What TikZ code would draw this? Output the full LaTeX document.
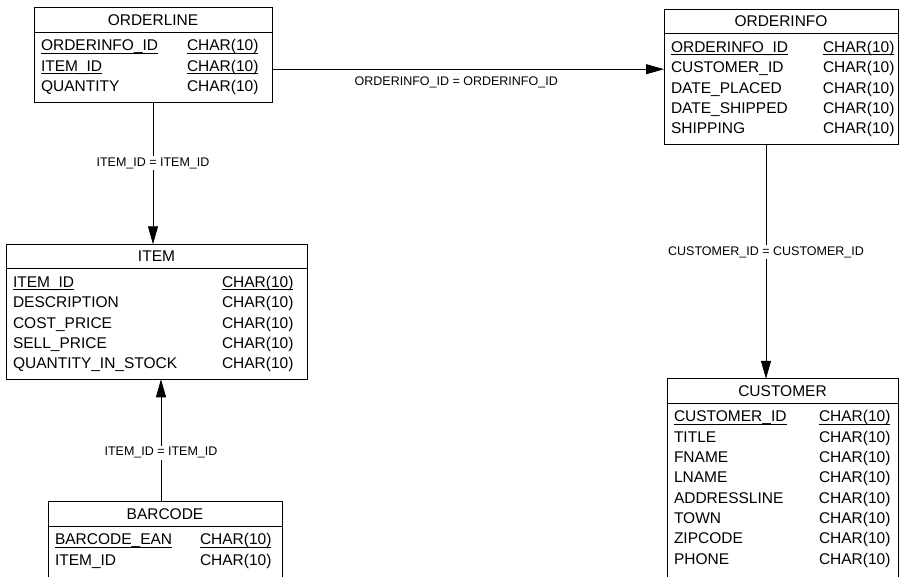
\documentclass[tikz,border=0pt]{standalone}
\usepackage{fontspec}
\setmainfont{Liberation Sans}
\usetikzlibrary{arrows.meta, positioning, calc}

\newcommand{\rowfont}{\fontsize{15.5}{20.3}\selectfont}
\newcommand{\relfont}{\fontsize{12.5}{14}\selectfont}
\newsavebox{\pkbox}
\newcommand{\pk}[1]{\leavevmode\sbox{\pkbox}{#1}\rlap{\rule[-2.4pt]{\wd\pkbox}{0.8pt}}\usebox{\pkbox}}

\begin{document}
\begin{tikzpicture}[
    x=1pt, y=-1pt,
    thead/.style={rectangle, draw, line width=0.8pt, outer sep=0pt, minimum height=24.5pt, inner sep=0pt, font=\rowfont},
    tbody/.style={rectangle, draw, line width=0.8pt, outer sep=0pt, inner xsep=7pt, inner ysep=4.5pt, align=left, font=\rowfont},
    fk/.style={-{Triangle[length=18pt, width=10pt]}, line width=0.8pt},
    rel/.style={font=\relfont, fill=white, inner sep=1.5pt}
]
\useasboundingbox (0,0) rectangle (899,576);
\clip (0,0) rectangle (899,576);

% tables
\node[thead, minimum width=238pt] (orderline) at (153,20) {ORDERLINE};
\node[tbody, text width=224pt, below=0pt of orderline] (orderline-b) {%
\begin{tabular}{@{}p{146pt}@{}l@{}}
\pk{ORDERINFO\_ID} & \pk{CHAR(10)}\\
\pk{ITEM\_ID} & \pk{CHAR(10)}\\
QUANTITY & CHAR(10)
\end{tabular}};

\node[thead, minimum width=234pt] (orderinfo) at (781,21.5) {ORDERINFO};
\node[tbody, text width=220pt, below=0pt of orderinfo] (orderinfo-b) {%
\begin{tabular}{@{}p{152pt}@{}l@{}}
\pk{ORDERINFO\_ID} & \pk{CHAR(10)}\\
CUSTOMER\_ID & CHAR(10)\\
DATE\_PLACED & CHAR(10)\\
DATE\_SHIPPED & CHAR(10)\\
SHIPPING & CHAR(10)
\end{tabular}};

\node[thead, minimum width=301pt] (item) at (156.5,256.5) {ITEM};
\node[tbody, text width=287pt, below=0pt of item] (item-b) {%
\begin{tabular}{@{}p{209pt}@{}l@{}}
\pk{ITEM\_ID} & \pk{CHAR(10)}\\
DESCRIPTION & CHAR(10)\\
COST\_PRICE & CHAR(10)\\
SELL\_PRICE & CHAR(10)\\
QUANTITY\_IN\_STOCK & CHAR(10)
\end{tabular}};

% barcode and customer run past the lower edge
\node[thead, minimum width=234pt] (barcode) at (165,514) {BARCODE};
\node[tbody, text width=220pt, below=0pt of barcode] (barcode-b) {%
\begin{tabular}{@{}p{145pt}@{}l@{}}
\pk{BARCODE\_EAN} & \pk{CHAR(10)}\\
ITEM\_ID & CHAR(10)\\[8pt]
\end{tabular}};

\node[thead, minimum width=231pt] (customer) at (782.5,391) {CUSTOMER};
\node[tbody, text width=217pt, below=0pt of customer] (customer-b) {%
\begin{tabular}{@{}p{145pt}@{}l@{}}
\pk{CUSTOMER\_ID} & \pk{CHAR(10)}\\
TITLE & CHAR(10)\\
FNAME & CHAR(10)\\
LNAME & CHAR(10)\\
ADDRESSLINE & CHAR(10)\\
TOWN & CHAR(10)\\
ZIPCODE & CHAR(10)\\
PHONE & CHAR(10)\\[8pt]
\end{tabular}};

% relationships
\draw[fk] ([yshift=-2pt]orderline-b.east) -- ([yshift=-2pt]orderline-b.east -| orderinfo-b.west)
    node[pos=0.47, below=6pt, font=\relfont, inner sep=1.5pt] (rel-oi) {ORDERINFO\_ID = ORDERINFO\_ID};
\draw[fk] (orderline-b.south) -- (orderline-b.south |- item.north)
    node[rel, pos=0.43] (rel-ol) {ITEM\_ID = ITEM\_ID};
\draw[fk] ([xshift=-4pt]barcode.north) -- ([xshift=-4pt]barcode.north |- item-b.south)
    node[rel, pos=0.4] (rel-bc) {ITEM\_ID = ITEM\_ID};
\draw[fk] ([xshift=-15pt]orderinfo-b.south) -- ([xshift=-15pt]orderinfo-b.south |- customer.north)
    node[rel, pos=0.46] (rel-cu) {CUSTOMER\_ID = CUSTOMER\_ID};
\end{tikzpicture}
\end{document}
